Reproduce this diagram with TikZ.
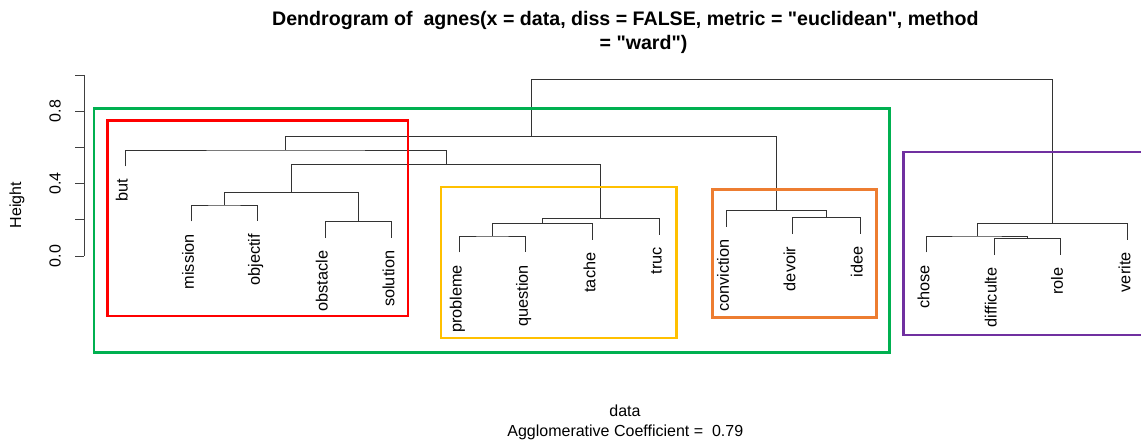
\documentclass[tikz,border=0pt]{standalone}
\usepackage{fontspec}
\setmainfont{Liberation Sans}[Ligatures=TeXOff]
\usetikzlibrary{calc}
\definecolor{cgreen}{RGB}{0,176,80}
\definecolor{cred}{RGB}{255,0,0}
\definecolor{cyellow}{RGB}{255,192,0}
\definecolor{corange}{RGB}{237,125,49}
\definecolor{cpurple}{RGB}{112,48,160}
\begin{document}
\begin{tikzpicture}[x=1pt,y=-1pt,
  tree/.style={draw=black!80, line width=0.8pt},
  axisline/.style={draw=black!75, line width=0.8pt},
  leaflab/.style={rotate=90, anchor=mid east, inner sep=0pt, font=\fontsize{16.3}{19}\selectfont},
  ticklab/.style={rotate=90, anchor=center, inner sep=0pt, font=\fontsize{16}{19}\selectfont},
  plainlab/.style={inner sep=0pt, font=\fontsize{16}{19}\selectfont},
  titlelab/.style={inner sep=0pt, font=\bfseries\fontsize{19.6}{24}\selectfont},
  clbox/.style={line width=2.8pt}]
\useasboundingbox (0,0) rectangle (1141,441);

% title
\node[titlelab, anchor=base] (t1) at (625.4,26) {Dendrogram of\ \ agnes(x = data, diss = FALSE, metric = "euclidean", method};
\node[titlelab, anchor=base] (t2) at (643.5,50) {= "ward")};

% axis
\draw[axisline] (84,75) -- (84,256);
\foreach \h in {0,0.2,0.4,0.6,0.8,1.0}{
  \draw[axisline] (84,{256-181*\h}) -- (75,{256-181*\h});
}
\node[ticklab] (y0) at (55,256) {0.0};
\node[ticklab] (y4) at (55,183.6) {0.4};
\node[ticklab] (y8) at (55,111.2) {0.8};
\node[plainlab, rotate=90] (ylab) at (17,205) {Height};

% bottom labels
\node[plainlab, anchor=base] (xlab) at (625,416.7) {data};
\node[plainlab, anchor=base] (ac) at (625.3,436.7) {Agglomerative Coefficient =\ \ 0.79};

% leaves (bottom ends)
\coordinate (but) at (125,166.3);
\coordinate (mission) at (191.3,221.3);
\coordinate (objectif) at (257.3,221.3);
\coordinate (obstacle) at (325,238);
\coordinate (solution) at (391.7,238);
\coordinate (probleme) at (459,252.3);
\coordinate (question) at (525.3,252.3);
\coordinate (tache) at (592.7,240);
\coordinate (truc) at (659,234.6);
\coordinate (conviction) at (726.3,226.6);
\coordinate (devoir) at (792.7,234);
\coordinate (idee) at (860,234);
\coordinate (chose) at (926.7,252.3);
\coordinate (difficulte) at (994,255);
\coordinate (role) at (1060.3,255);
\coordinate (verite) at (1127.7,239.6);

% merges
\coordinate (A) at (224.3,205);
\coordinate (B) at (358.3,221.7);
\coordinate (C) at (291.3,192.3);
\coordinate (D) at (492.2,236);
\coordinate (E) at (542.4,223.7);
\coordinate (F) at (600.7,218.3);
\coordinate (G) at (446,164.3);
\coordinate (H) at (285.5,150);
\coordinate (I) at (826.3,217.7);
\coordinate (J) at (776.3,210.3);
\coordinate (K) at (530.9,136.3);
\coordinate (L) at (1027.2,238.7);
\coordinate (M) at (977,236);
\coordinate (N) at (1052.3,223.3);
\coordinate (R) at (791.6,79.7);

\draw[tree] (mission) |- (A) -| (objectif);
\draw[tree] (obstacle) |- (B) -| (solution);
\draw[tree] (A) |- (C) -| (B);
\draw[tree] (probleme) |- (D) -| (question);
\draw[tree] (D) |- (E) -| (tache);
\draw[tree] (E) |- (F) -| (truc);
\draw[tree] (C) |- (G) -| (F);
\draw[tree] (but) |- (H) -| (G);
\draw[tree] (devoir) |- (I) -| (idee);
\draw[tree] (conviction) |- (J) -| (I);
\draw[tree] (H) |- (K) -| (J);
\draw[tree] (difficulte) |- (L) -| (role);
\draw[tree] (chose) |- (M) -| (L);
\draw[tree] (M) |- (N) -| (verite);
\draw[tree] (K) |- (R) -| (N);

% leaf labels
\foreach \lf in {but,mission,objectif,obstacle,solution,probleme,question,tache,truc,conviction,devoir,idee,chose,difficulte,role,verite}{
  \node[leaflab] (lab-\lf) at ($(\lf)+(0,12.5)$) {\lf};
}

% cluster boxes
\draw[clbox, cgreen] (94,108.3) rectangle (889.3,352.3);
\draw[clbox, cred] (107.3,120.7) rectangle (408,316);
\draw[clbox, cyellow] (441,187) rectangle (676.7,338);
\draw[clbox, corange] (712.3,189.3) rectangle (876.3,317.3);
\draw[clbox, cpurple] (1141,152) -- (903.3,152) -- (903.3,335) -- (1141,335);
\end{tikzpicture}
\end{document}
